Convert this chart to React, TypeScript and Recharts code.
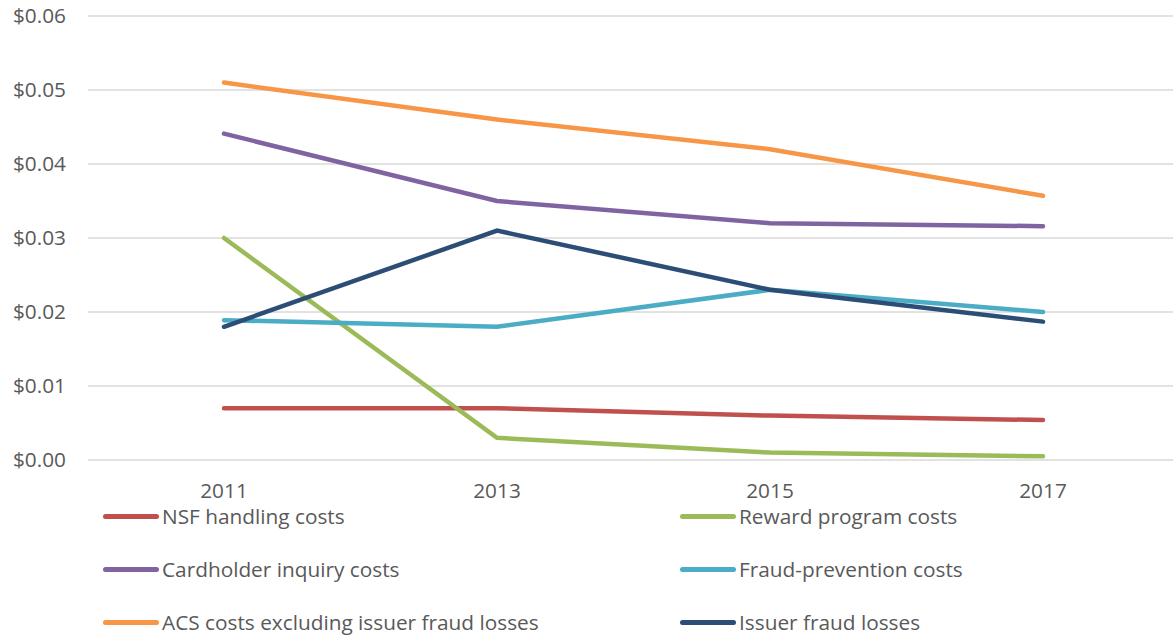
import { LineChart, Line, XAxis, YAxis, CartesianGrid } from 'recharts'

const YEARS = ['2011', '2013', '2015', '2017']
const NSF = [0.007, 0.007, 0.006, 0.0054]
const REWARD = [0.03, 0.003, 0.001, 0.0005]
const CARDHOLDER = [0.0441, 0.035, 0.032, 0.0316]
const FRAUD_PREV = [0.0189, 0.018, 0.023, 0.02]
const ACS = [0.051, 0.046, 0.042, 0.0357]
const ISSUER = [0.018, 0.031, 0.023, 0.0187]
const Y_TICKS = [0, 0.01, 0.02, 0.03, 0.04, 0.05, 0.06]

const SERIES = [
  { key: 'nsf', name: 'NSF handling costs', color: '#C0504D', values: NSF },
  { key: 'reward', name: 'Reward program costs', color: '#9BBB59', values: REWARD },
  { key: 'cardholder', name: 'Cardholder inquiry costs', color: '#8064A2', values: CARDHOLDER },
  { key: 'fraudPrev', name: 'Fraud-prevention costs', color: '#4BACC6', values: FRAUD_PREV },
  { key: 'acs', name: 'ACS costs excluding issuer fraud losses', color: '#F79646', values: ACS },
  { key: 'issuer', name: 'Issuer fraud losses', color: '#2C4D75', values: ISSUER },
]

const data = YEARS.map((year, i) => {
  const row: any = { year }
  SERIES.forEach(s => { row[s.key] = s.values[i] })
  return row
})

const FONT = '"Open Sans", sans-serif'
const TEXT = '#595959'

export default function App() {
  return (
    <div style={{ position: 'absolute', left: 0, top: 0, width: 1173, height: 636, background: '#fff', fontFamily: FONT }}>
      <LineChart width={1173} height={520} data={data} margin={{ top: 16, right: 0, bottom: 0, left: 0 }}>
        <CartesianGrid vertical={false} stroke="#d9d9d9" strokeWidth={1.5} />
        <XAxis
          dataKey="year"
          axisLine={false}
          tickLine={false}
          tickSize={0}
          tickMargin={23}
          height={60}
          padding={{ left: 136, right: 130 }}
          tick={{ fontSize: 20.8, fill: TEXT, fontFamily: FONT }}
        />
        <YAxis
          domain={[0, 0.06]}
          ticks={Y_TICKS}
          axisLine={false}
          tickLine={false}
          tickSize={0}
          tickMargin={22}
          width={88}
          tickFormatter={(v: number) => `$${v.toFixed(2)}`}
          tick={{ fontSize: 20.8, fill: TEXT, fontFamily: FONT }}
        />
        {SERIES.map(s => (
          <Line
            key={s.key}
            type="linear"
            dataKey={s.key}
            name={s.name}
            stroke={s.color}
            strokeWidth={4.5}
            strokeLinecap="round"
            dot={false}
            activeDot={false}
            isAnimationActive={false}
          />
        ))}
      </LineChart>
      {SERIES.map((s, i) => {
        const col = i % 2
        const row = Math.floor(i / 2)
        const left = col === 0 ? 103 : 680
        const top = 516 + row * 53
        return (
          <div key={s.key} style={{ position: 'absolute', left, top: top - 14, height: 28, display: 'flex', alignItems: 'center' }}>
            <div style={{ width: 56, height: 5, borderRadius: 3, background: s.color }} />
            <span style={{ marginLeft: 3, fontSize: 20.8, color: TEXT, whiteSpace: 'nowrap' }}>{s.name}</span>
          </div>
        )
      })}
    </div>
  )
}
